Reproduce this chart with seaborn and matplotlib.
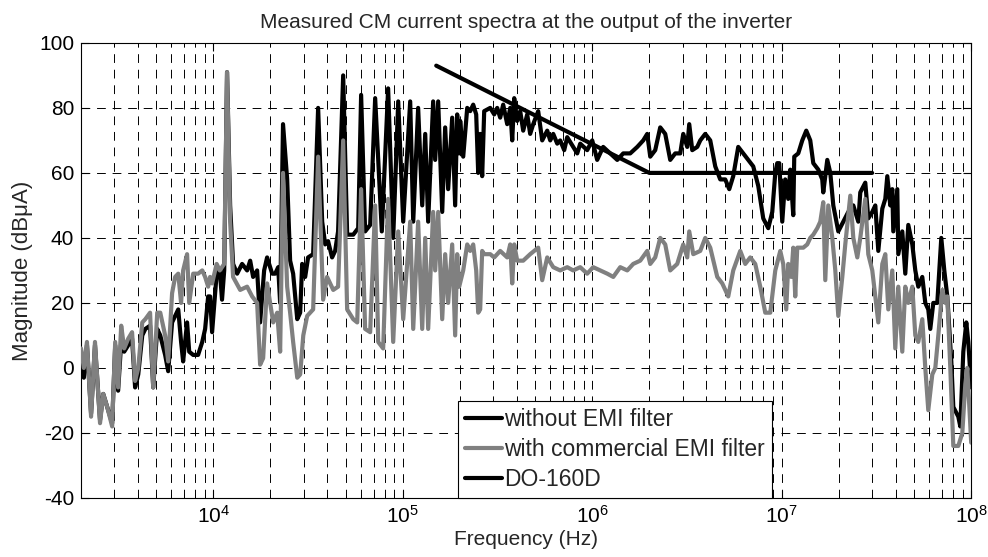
import matplotlib
matplotlib.use("Agg")
import matplotlib.pyplot as plt
import seaborn as sns
import pandas as pd

# ---------------- data (frequency in kHz, magnitude in dBuA) ----------------
# without EMI filter (black)
wo_low = [(2.00, 4), (2.07, -3), (2.15, 7), (2.26, -14), (2.37, 7), (2.52, -16), (2.62, -8), (2.75, -12),
          (2.92, -17), (3.03, 7), (3.14, -7), (3.26, 8), (3.38, 5), (3.55, 7), (3.72, 9), (3.86, -6),
          (4.01, -2), (4.21, 10), (4.37, 12), (4.63, 13), (4.81, -6), (5.05, 12), (5.24, 10), (5.56, 4),
          (5.77, -1), (6.05, 14), (6.28, 16), (6.52, 18), (6.75, 8), (6.92, 2), (7.26, 14), (7.45, 5),
          (7.82, 4), (8.30, 4), (8.73, 8), (9.04, 12), (9.38, 22), (9.60, 22), (9.84, 11), (10.4, 29),
          (10.8, 30), (11.1, 21), (11.4, 30)]
wo_mid = [(11.8, 91), (12.25, 50), (12.7, 32), (13.34, 29), (14.17, 32), (15.06, 30), (15.63, 33), (16.2, 28),
          (17.01, 30), (17.64, 14), (18.52, 30), (19.2, 34), (20.42, 29), (21.18, 29), (21.97, 31), (22.5, 20),
          (23.3, 75), (24.5, 58), (25.4, 33), (26.35, 29), (27.7, 15), (28.7, 17), (29.4, 32), (30.5, 28),
          (31.6, 34), (33.6, 35), (35.7, 80), (37.5, 45), (38.9, 38), (40.3, 39), (42.3, 34), (43.9, 36),
          (45.5, 42), (48.4, 90), (50.8, 41), (54.7, 41), (58.1, 43), (60.2, 84), (63.2, 42), (67.2, 44),
          (71.4, 83), (77.4, 42), (83.6, 86)]
wo_dense = [(88.9, 40), (94.5, 82), (100.4, 45), (109.3, 82), (113.4, 45), (120.4, 80), (126.5, 50), (131.2, 72),
            (136.0, 45), (144.5, 82), (148.1, 64), (153.6, 82), (161.3, 48), (167.2, 74), (173.4, 55), (182.1, 77),
            (188.8, 50), (193.5, 78), (198.3, 66), (200.7, 76), (208.2, 65), (218.6, 80), (226.7, 79), (235.1, 81),
            (243.8, 78), (249.8, 60), (255.9, 72), (262.2, 59)]
wo_khz = [(268.7, 79), (289.1, 80), (303.5, 78), (314.7, 80), (326.4, 77), (338.5, 81), (355.4, 75), (368.6, 80),
          (377.7, 70), (387.0, 83), (401.3, 76), (416.2, 79), (431.7, 73), (453.2, 78), (469.9, 72), (487.5, 75),
          (518.0, 79), (543.8, 70), (578.0, 73), (599.6, 70), (621.9, 72), (652.9, 69), (676.9, 70), (710.6, 67),
          (737.0, 71), (792.7, 68), (832.3, 66), (863.3, 69), (939.7, 67), (998.8, 70)]
wo_mhz1 = [(1061, 64), (1141, 68), (1243, 66), (1354, 64), (1456, 66), (1585, 66), (1727, 68), (1857, 70),
           (1949, 72), (2022, 65), (2148, 67), (2283, 74), (2426, 72), (2578, 64), (2740, 66), (2911, 66),
           (3020, 72), (3170, 68), (3248, 75), (3369, 67), (3580, 68), (3713, 70), (3946, 72), (4193, 70),
           (4456, 62), (4735, 58), (5031, 58), (5282, 55), (5545, 59), (5892, 68), (6262, 66), (6654, 64),
           (7071, 62), (7515, 56), (7985, 46), (8487, 43), (8911, 48), (9242, 60), (9467, 63), (9701, 63)]
wo_mhz10 = [(10060, 45), (10430, 58), (10820, 52), (11090, 61), (11500, 47), (11640, 65), (12220, 66), (12830, 70),
            (13470, 73), (14140, 70), (14670, 63), (15590, 61), (16360, 58), (16560, 54), (17390, 64), (18040, 60),
            (18710, 50), (19880, 42), (21120, 45), (22450, 48), (23860, 50), (25350, 45), (25970, 54), (27600, 57),
            (28620, 46), (30050, 48), (31170, 50), (32330, 36), (33940, 49), (35200, 52), (36060, 59), (37400, 50),
            (38320, 55), (38790, 42), (40720, 55), (41220, 35), (43270, 42), (44880, 29), (46550, 44), (48870, 38),
            (50690, 30), (52570, 25), (55180, 28), (57230, 20), (59350, 18), (60820, 12), (63080, 20), (66220, 20),
            (69520, 40), (72110, 30), (74780, 22), (78510, 2), (80450, -12), (85500, -15), (87600, -18), (90850, 5),
            (94220, 14), (96540, 8), (100000, -6)]

# with commercial EMI filter (grey)
w_low = [(2.00, 6), (2.07, 0), (2.15, 8), (2.26, -15), (2.37, 8), (2.52, -17), (2.62, -8), (2.75, -12),
         (2.92, -18), (3.03, 8), (3.14, -6), (3.26, 13), (3.38, 6), (3.55, 9), (3.72, 11), (3.86, -4),
         (4.01, 0), (4.21, 14), (4.37, 15), (4.63, 17), (4.81, -6), (5.05, 17), (5.24, 17), (5.56, 10),
         (5.77, 2), (6.05, 23), (6.28, 28), (6.52, 29), (6.75, 20), (6.92, 30), (7.26, 35), (7.45, 20),
         (7.82, 29), (8.30, 29), (8.73, 30), (9.04, 28), (9.38, 25), (9.60, 28), (9.84, 26), (10.4, 32),
         (10.8, 30), (11.1, 31), (11.4, 32)]
w_mid = [(11.8, 91), (12.25, 45), (12.7, 28), (13.84, 24), (15.06, 25), (16.01, 22), (17.01, 20), (17.64, 1),
         (18.30, 3), (19.20, 26), (19.93, 20), (20.67, 14), (21.70, 17), (22.5, 5), (23.3, 60), (24.5, 25),
         (25.4, 17), (26.35, 8), (27.7, -3), (28.7, -2), (29.8, 10), (31.25, 16), (33.6, 18), (35.7, 65),
         (37.95, 21), (39.8, 28), (41.3, 26), (42.9, 24), (45.5, 25), (48.4, 70), (50.8, 18), (54.7, 15),
         (57.4, 14), (60.2, 55), (63.2, 12), (67.2, 11), (71.4, 50), (74.1, 8), (78.7, 6), (83.6, 52)]
w_dense = [(88.9, 8), (94.5, 42), (100.4, 15), (109.3, 45), (113.4, 12), (120.4, 45), (126.5, 12), (131.2, 40),
           (136.0, 12), (144.5, 48), (148.1, 30), (153.6, 48), (161.3, 15), (167.2, 35), (173.4, 20), (182.1, 38),
           (188.8, 10), (193.5, 35), (198.3, 25), (208.2, 30), (218.6, 38), (226.7, 36), (235.1, 38), (243.8, 30),
           (249.8, 17), (255.9, 18), (262.2, 36)]
w_khz = [(268.7, 35), (289.1, 35), (303.5, 34), (326.4, 36), (355.4, 34), (368.6, 38), (377.7, 26), (387.0, 38),
         (401.3, 33), (431.7, 33), (469.9, 35), (518.0, 37), (543.8, 27), (578.0, 34), (621.9, 31), (676.9, 30),
         (737.0, 31), (792.7, 30), (863.3, 31), (939.7, 29)]
w_mhz1 = [(1011, 31), (1101, 30), (1199, 29), (1290, 28), (1404, 31), (1529, 30), (1644, 32), (1790, 33),
          (1949, 36), (2022, 32), (2148, 34), (2283, 40), (2426, 38), (2578, 30), (2807, 32), (3020, 38),
          (3170, 34), (3248, 42), (3410, 35), (3713, 36), (3946, 40), (4193, 37), (4566, 28), (4852, 26),
          (5218, 22), (5545, 30), (6038, 36), (6416, 32), (6818, 34), (7245, 32), (7700, 25), (8183, 17),
          (8697, 17), (9242, 30), (9820, 36)]
w_mhz10 = [(10180, 32), (10560, 18), (10820, 32), (11220, 28), (11500, 37), (11780, 22), (12070, 37), (12990, 37),
           (13630, 38), (14140, 40), (14670, 41), (15400, 43), (15970, 45), (16560, 51), (16970, 27), (17600, 50),
           (18480, 40), (19170, 30), (19880, 16), (20870, 28), (21640, 38), (23000, 53), (23860, 40), (25050, 34),
           (25970, 40), (27600, 52), (28620, 35), (30050, 30), (31170, 22), (32330, 14), (33940, 32), (35200, 35),
           (36510, 18), (38320, 30), (39740, 6), (41220, 25), (43270, 5), (44880, 25), (46550, 20), (48870, 25),
           (50690, 10), (52570, 8), (55180, 15), (57230, 0), (59350, -13), (62320, -2), (64640, 0), (67040, 10),
           (70380, 24), (73000, 20), (74780, 22), (77560, 0), (80450, -24), (85500, -24), (89740, -20), (93090, -5),
           (95370, 0), (100000, -23)]

# DO-160D limit
limit_khz = [150, 2000, 30000]
limit_db = [93, 60, 60]

labels = ["without EMI filter", "with commercial EMI filter", "DO-160D"]
title = "Measured CM current spectra at the output of the inverter"
xlabel = "Frequency (Hz)"
ylabel = "Magnitude (dB\u03bcA)"


def to_frame(parts):
    rows = [p for part in parts for p in part]
    df = pd.DataFrame(rows, columns=["khz", "db"])
    df["hz"] = df["khz"] * 1e3
    return df


df_wo = to_frame([wo_low, wo_mid, wo_dense, wo_khz, wo_mhz1, wo_mhz10])
df_w = to_frame([w_low, w_mid, w_dense, w_khz, w_mhz1, w_mhz10])
df_lim = pd.DataFrame({"hz": [f * 1e3 for f in limit_khz], "db": limit_db})

# ---------------- style ----------------
sns.set_style("ticks")
plt.rcParams["font.family"] = ["Liberation Sans", "DejaVu Sans"]
plt.rcParams["mathtext.fontset"] = "custom"
plt.rcParams["mathtext.rm"] = "Liberation Sans"
plt.rcParams["mathtext.it"] = "Liberation Sans:italic"
plt.rcParams["axes.unicode_minus"] = False

fig = plt.figure(figsize=(9.88, 5.57), dpi=100)
ax = fig.add_axes([0.082, 0.106, 0.901, 0.817])

sns.lineplot(data=df_wo, x="hz", y="db", ax=ax, color="black", linewidth=2.3,
             estimator=None, sort=False, label=labels[0], zorder=3)
sns.lineplot(data=df_w, x="hz", y="db", ax=ax, color="#808080", linewidth=2.3,
             estimator=None, sort=False, label=labels[1], zorder=4)
sns.lineplot(data=df_lim, x="hz", y="db", ax=ax, color="black", linewidth=2.6,
             estimator=None, sort=False, label=labels[2], zorder=5)

ax.set_xscale("log")
ax.set_xlim(2e3, 1e8)
ax.set_ylim(-40, 100)
ax.set_yticks(range(-40, 101, 20))

for s in ax.spines.values():
    s.set_visible(True)
    s.set_color("black")
    s.set_linewidth(0.8)

ax.set_axisbelow(True)
ax.grid(True, which="major", axis="both", color="black", linestyle=(0, (9, 7)), linewidth=0.7)
ax.grid(True, which="minor", axis="x", color="black", linestyle=(0, (9, 7)), linewidth=0.7)

ax.tick_params(which="both", direction="in", top=True, right=True, labelsize=15, colors="black")
ax.tick_params(which="major", length=6, width=0.8, pad=5)
ax.tick_params(which="minor", length=3, width=0.6)

ax.set_title(title, fontsize=15, pad=11)
ax.set_xlabel(xlabel, fontsize=15, labelpad=2)
ax.set_ylabel(ylabel, fontsize=16, labelpad=4)

handles, labs = ax.get_legend_handles_labels()
for h in handles:
    h.set_linewidth(3)
leg = ax.legend(handles, labs, loc="lower left", bbox_to_anchor=(0.424, 0.0), borderaxespad=0,
                fontsize=16.5, frameon=True, fancybox=False, edgecolor="black", framealpha=1,
                handlelength=1.6, handletextpad=0.1, labelspacing=0.3, borderpad=0.3)
leg.get_frame().set_linewidth(0.8)

fig.savefig("out.png", dpi=100)
